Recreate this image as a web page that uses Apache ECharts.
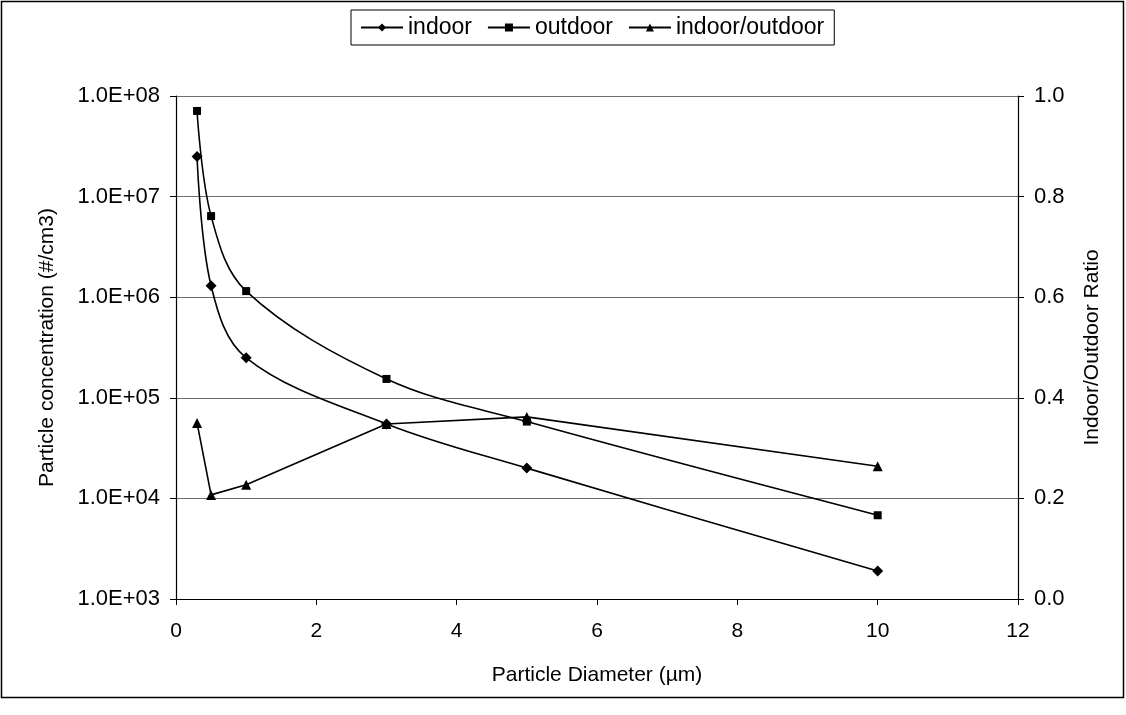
<!DOCTYPE html>
<html>
<head>
<meta charset="utf-8">
<script src="https://cdn.jsdelivr.net/npm/echarts@6/dist/echarts.min.js"></script>
<style>
html,body{margin:0;padding:0;background:#fff;}
#chart{width:1126px;height:715px;}
</style>
</head>
<body>
<div id="chart"></div>
<script>
// Data
const diameters = [0.3, 0.5, 1, 3, 5, 10];
const indoor = [2.5e7, 1.3e6, 2.5e5, 5.5e4, 2.0e4, 1.9e3];
const outdoor = [7.1e7, 6.4e6, 1.15e6, 1.54e5, 5.8e4, 6.8e3];
const ratio = [0.35, 0.207, 0.227, 0.348, 0.362, 0.264];
const seriesNames = ['indoor', 'outdoor', 'indoor/outdoor'];

const pairs = (xs, ys) => xs.map((x, i) => [x, ys[i]]);
const FONT = '"Liberation Sans", Arial, sans-serif';
const FS = 21;

function sciLabel(v) {
  const e = Math.round(Math.log10(v));
  return '1.0E+' + (e < 10 ? '0' + e : e);
}

const chart = echarts.init(document.getElementById('chart'), null, {renderer: 'canvas'});
const lineStyle = {color: '#000', width: 1.6};
chart.setOption({
  animation: false,
  backgroundColor: '#fff',
  textStyle: {fontFamily: FONT},
  graphic: [{
    type: 'rect',
    shape: {x: 1.5, y: 1.5, width: 1122, height: 696},
    style: {fill: 'none', stroke: '#000', lineWidth: 1.5},
    silent: true
  }],
  legend: {
    data: seriesNames,
    left: 351,
    top: 10,
    padding: [6, 10, 6, 9],
    borderColor: '#000',
    borderWidth: 1,
    itemWidth: 42,
    itemHeight: 10,
    itemGap: 15,
    textStyle: {fontFamily: FONT, fontSize: 23, color: '#000'}
  },
  grid: {left: 176, right: 108, top: 96, bottom: 116},
  xAxis: {
    type: 'value',
    min: 0, max: 12, interval: 2,
    name: 'Particle Diameter (µm)',
    nameLocation: 'middle',
    nameGap: 66,
    nameTextStyle: {fontFamily: FONT, fontSize: FS, color: '#000'},
    axisLine: {show: true, onZero: false, lineStyle: {color: '#000', width: 1.2}},
    axisTick: {show: true, length: 6, lineStyle: {color: '#000'}},
    axisLabel: {fontFamily: FONT, fontSize: FS, color: '#000', margin: 22},
    splitLine: {show: false}
  },
  yAxis: [{
    type: 'log',
    logBase: 10,
    min: 1e3, max: 1e8,
    position: 'left',
    name: 'Particle concentration (#/cm3)',
    nameLocation: 'middle',
    nameGap: 118,
    nameRotate: 90,
    nameTextStyle: {fontFamily: FONT, fontSize: FS, color: '#000'},
    axisLine: {show: true, lineStyle: {color: '#000', width: 1.2}},
    axisTick: {show: true, length: 6, lineStyle: {color: '#000'}},
    axisLabel: {fontFamily: FONT, fontSize: 22, color: '#000', margin: 16, formatter: sciLabel},
    splitLine: {show: true, lineStyle: {color: '#6e6e6e', width: 1.2}},
    minorTick: {show: false}
  }, {
    type: 'value',
    min: 0, max: 1, interval: 0.2,
    position: 'right',
    name: 'Indoor/Outdoor Ratio',
    nameLocation: 'middle',
    nameGap: 64,
    nameRotate: 90,
    nameTextStyle: {fontFamily: FONT, fontSize: FS, color: '#000'},
    axisLine: {show: true, lineStyle: {color: '#000', width: 1.2}},
    axisTick: {show: true, length: 6, lineStyle: {color: '#000'}},
    axisLabel: {fontFamily: FONT, fontSize: 22, color: '#000', margin: 16, formatter: v => v.toFixed(1)},
    splitLine: {show: false}
  }],
  series: [{
    name: seriesNames[0],
    type: 'line',
    yAxisIndex: 0,
    data: pairs(diameters, indoor),
    smooth: 0.35,
    symbol: 'diamond',
    symbolSize: 11,
    itemStyle: {color: '#000'},
    lineStyle: lineStyle
  }, {
    name: seriesNames[1],
    type: 'line',
    yAxisIndex: 0,
    data: pairs(diameters, outdoor),
    smooth: 0.35,
    symbol: 'rect',
    symbolSize: 8,
    itemStyle: {color: '#000'},
    lineStyle: lineStyle
  }, {
    name: seriesNames[2],
    type: 'line',
    yAxisIndex: 1,
    data: pairs(diameters, ratio),
    smooth: false,
    symbol: 'triangle',
    symbolSize: 10,
    itemStyle: {color: '#000'},
    lineStyle: lineStyle
  }]
});
</script>
</body>
</html>
